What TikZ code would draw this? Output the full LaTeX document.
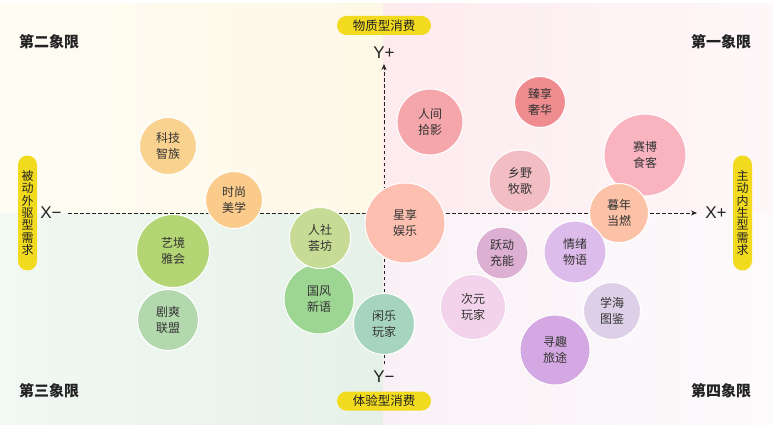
\documentclass[tikz,border=0pt]{standalone}
\usepackage{fontspec}
\setmainfont{Noto Sans CJK SC}
\newfontfamily\latinfont{Liberation Sans}
\usetikzlibrary{arrows.meta}
\definecolor{txt}{HTML}{333333}
\definecolor{dark}{HTML}{222222}
\definecolor{pill}{HTML}{F2DB1F}
\definecolor{tlbg}{HTML}{FEF8E6}
\definecolor{trbg}{HTML}{FDEBEE}
\definecolor{blbg}{HTML}{E5F1E8}
\definecolor{brbg}{HTML}{F9F1F6}
\definecolor{ckj}{HTML}{F9D28F}
\definecolor{csm}{HTML}{FBCB8B}
\definecolor{cyj}{HTML}{B3D574}
\definecolor{cjs}{HTML}{B4D8AE}
\definecolor{crs}{HTML}{C6DB94}
\definecolor{cgf}{HTML}{9DD593}
\definecolor{cxl}{HTML}{A6D4BE}
\definecolor{cxx}{HTML}{FDBFB0}
\definecolor{crj}{HTML}{F4A6AB}
\definecolor{czx}{HTML}{EF8C8F}
\definecolor{cxy}{HTML}{F2BDC3}
\definecolor{csb}{HTML}{F9B4C0}
\definecolor{cmn}{HTML}{FCC2A7}
\definecolor{cyd}{HTML}{DCAFD3}
\definecolor{cqx}{HTML}{DDBCEB}
\definecolor{ccy}{HTML}{F2D3EB}
\definecolor{cxh}{HTML}{DCCFE7}
\definecolor{cxq}{HTML}{D4A8E2}
\tikzset{
  bubble/.style={circle, draw=white, line width=1pt, inner sep=0pt,
    minimum size=#1, font=\fontsize{12}{15.5}\selectfont, text=txt, align=center},
  hpill/.style={rounded corners=9.5pt, fill=pill, minimum width=94pt, minimum height=19pt,
    inner sep=0pt, font=\fontsize{12.5}{14}\selectfont, text=dark},
  vpill/.style={rounded corners=9.5pt, fill=pill, minimum width=19pt, minimum height=115pt,
    inner sep=0pt, font=\fontsize{12}{12.4}\selectfont, text=dark, align=center},
  quad/.style={font=\bfseries\fontsize{15}{16}\selectfont, text=dark},
  axlabel/.style={font=\latinfont\fontsize{17}{18}\selectfont, text=dark, inner sep=0pt},
  axis/.style={dashed, dash pattern=on 3.5pt off 2.5pt, line width=0.8pt, draw=dark,
    -{Stealth[length=6pt,width=5pt]}}
}
\begin{document}
\begin{tikzpicture}[x=1pt,y=-1pt]
\useasboundingbox (0,0) rectangle (773,433);
\fill[white] (0,0) rectangle (773,433);
% quadrant backgrounds
\shade[left color=tlbg!45!white, right color=tlbg] (0,4) rectangle (383,213);
\shade[left color=trbg, right color=trbg!40!white] (383,4) rectangle (773,213);
\shade[left color=blbg!50!white, right color=blbg] (0,213) rectangle (383,424);
\shade[left color=brbg, right color=brbg!35!white] (383,213) rectangle (773,424);

% axes
\coordinate (xs) at (68,213);
\coordinate (xe) at (697,213);
\coordinate (ys) at (384,364);
\coordinate (ye) at (384,64);
\draw[axis] (xs) -- (xe);
\draw[axis] (ys) -- (ye);

% axis labels
\node[axlabel] (xm) at (51,213) {X−};
\node[axlabel] (xp) at (716,213) {X+};
\node[axlabel] (yp) at (384,53) {Y+};
\node[axlabel] (ym) at (384,377) {Y−};

% pills
\node[hpill] (top) at (384,25.5) {物质型消费};
\node[hpill] (bot) at (384,401) {体验型消费};
\node[vpill] (left) at (27.5,213) {被\\动\\外\\驱\\型\\需\\求};
\node[vpill] (right) at (742.5,213) {主\\动\\内\\生\\型\\需\\求};

% quadrant labels
\node[quad] (q2) at (49,42) {第二象限};
\node[quad] (q1) at (721,42) {第一象限};
\node[quad] (q3) at (49,391) {第三象限};
\node[quad] (q4) at (721,391) {第四象限};

% bubbles
\node[bubble=57, fill=ckj] (kj) at (168,146) {科技\\智族};
\node[bubble=57, fill=csm] (sm) at (234,200) {时尚\\美学};
\node[bubble=73, fill=cyj] (yj) at (173,251) {艺境\\雅会};
\node[bubble=61, fill=cjs] (js) at (168,320) {剧爽\\联盟};
\node[bubble=70, fill=cgf] (gf) at (319,299) {国风\\新语};
\node[bubble=61, fill=crs] (rs) at (320,238) {人社\\荟坊};
\node[bubble=61, fill=cxl] (xl) at (384,324) {闲乐\\玩家};
\node[bubble=80, fill=cxx] (xx) at (405,223) {星享\\娱乐};
\node[bubble=66, fill=crj] (rj) at (430,122) {人间\\拾影};
\node[bubble=51, fill=czx] (zx) at (540,102) {臻享\\奢华};
\node[bubble=62, fill=cxy] (xy) at (520,181) {乡野\\牧歌};
\node[bubble=82, fill=csb] (sb) at (645,155) {赛博\\食客};
\node[bubble=59, fill=cmn] (mn) at (619,213) {暮年\\当燃};
\node[bubble=52, fill=cyd] (yd) at (502,253) {跃动\\充能};
\node[bubble=62, fill=cqx] (qx) at (575,252) {情绪\\物语};
\node[bubble=65, fill=ccy] (cy) at (473,307) {次元\\玩家};
\node[bubble=57, fill=cxh] (xh) at (612,311) {学海\\图鉴};
\node[bubble=70, fill=cxq] (xq) at (555,350) {寻趣\\旅途};
\end{tikzpicture}
\end{document}
